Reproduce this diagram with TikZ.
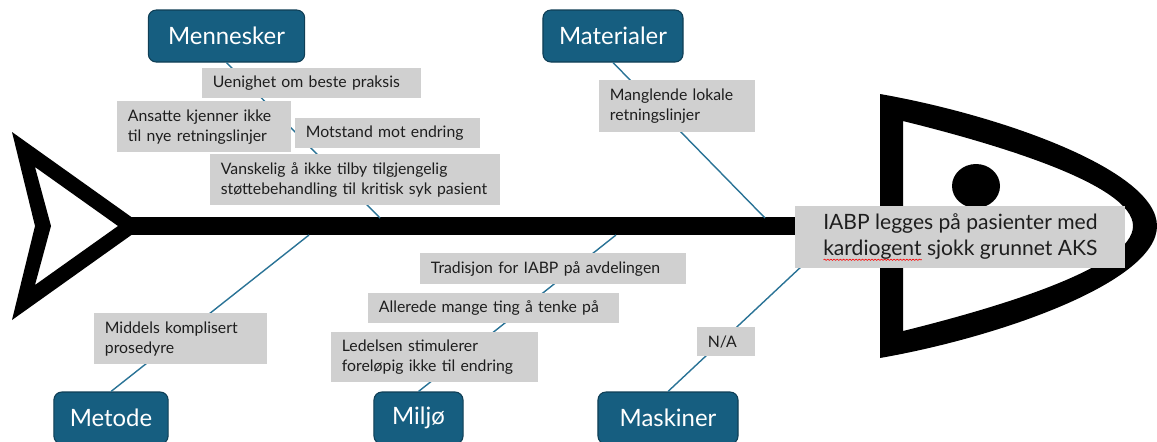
\documentclass[tikz,border=0pt]{standalone}
\usepackage{fontspec}
\setmainfont{Lato}
\usetikzlibrary{positioning,decorations.pathmorphing}

\definecolor{catblue}{HTML}{165E80}
\definecolor{catedge}{HTML}{0F3E55}
\definecolor{causegray}{HTML}{D0D0D0}
\definecolor{causetext}{HTML}{1E1E1E}
\definecolor{bonecol}{HTML}{2A7396}

\newlength{\wavelen}
\newcommand{\spellwave}[1]{\settowidth{\wavelen}{#1}\makebox[0pt][l]{\tikz[baseline=0pt]\draw[red,line width=0.35pt,decorate,decoration={snake,amplitude=0.35pt,segment length=1.8pt}] (0pt,-2.2pt) -- (\wavelen,-2.2pt);}#1}

\begin{document}
\begin{tikzpicture}[x=0.02cm,y=-0.02cm,
    catbox/.style={draw=catedge, line width=0.6pt, fill=catblue, rounded corners=4.5pt,
        text=white, font=\fontsize{13.6}{15}\selectfont, minimum height=29.6pt},
    cause/.style={fill=causegray, anchor=north west, align=left, inner xsep=6pt,
        inner ysep=0pt, text=causetext, font=\fontsize{9}{11.4}\selectfont},
    bone/.style={bonecol, line width=0.8pt}]

    % Frame
    \useasboundingbox (0,0) rectangle (1157,441);

    % Tail
    \fill[even odd rule] (12,132) -- (144,226) -- (12,320) -- (35,226) -- cycle
                         (35,167) -- (118,226) -- (35,285) -- (51,226) -- cycle;

    % Spine
    \fill (130,217) rectangle (890,235);

    % Head
    \fill[even odd rule] (880,94) .. controls (1000,115) and (1157,170) .. (1157,226)
                         .. controls (1157,282) and (1000,337) .. (880,358) -- cycle
                         (903,121) .. controls (1000,145) and (1133,185) .. (1133,226)
                         .. controls (1133,267) and (1000,307) .. (903,331) -- cycle;

    % Eye
    \fill (976,186) ellipse [x radius=24, y radius=22];

    % Categories
    \node[catbox, minimum width=89pt] (men) at (226.5,36) {Mennesker};
    \node[catbox, minimum width=79.7pt] (mat) at (613,36) {Materialer};
    \node[catbox, minimum width=65pt] (met) at (111,418) {Metode};
    \node[catbox, minimum width=50.7pt] (mil) at (418.5,418) {Miljø};
    \node[catbox, minimum width=79.7pt] (mas) at (668,418) {Maskiner};

    % Bones
    \foreach \n/\x/\y in {men/380/218, mat/765/218, met/309/235, mil/616/235, mas/835/235}
        \coordinate (b-\n) at (\x,\y);
    \foreach \n/\a in {men/south, mat/south, met/north, mil/north, mas/north}
        \draw[bone] (\n.\a) -- (b-\n);

    % Causes
    \node[cause, text width=112.7pt, minimum height=17.1pt] (uenighet) at (202,68) {Uenighet om beste praksis};
    \node[cause, text width=87.1pt, minimum height=29pt] (ansatte) at (117,101) {Ansatte kjenner ikke\\til nye retningslinjer};
    \node[cause, text width=93.3pt, minimum height=17.1pt] (motstand) at (295,118) {Motstand mot endring};
    \node[cause, text width=153.1pt, minimum height=29pt] (vanskelig) at (210,154) {Vanskelig å ikke tilby tilgjengelig\\støttebehandling til kritisk syk pasient};
    \node[cause, text width=76.8pt, minimum height=29.6pt] (manglende) at (599,80) {Manglende lokale\\retningslinjer};
    \node[cause, text width=139.4pt, minimum height=17.6pt] (tradisjon) at (420,253) {Tradisjon for IABP på avdelingen};
    \node[cause, text width=130.9pt, minimum height=17.1pt] (allerede) at (368,293) {Allerede mange ting å tenke på};
    \node[cause, text width=105.8pt, minimum height=28.5pt] (ledelsen) at (331,332) {Ledelsen stimulerer\\foreløpig ikke til endring};
    \node[cause, text width=86.5pt, minimum height=29pt] (middels) at (94,313) {Middels komplisert\\prosedyre};
    \node[cause, text width=21pt, minimum height=16.5pt] (na) at (697,327) {N/A};

    % Effect
    \node[fill=causegray, anchor=north west, minimum width=187.9pt, minimum height=35.3pt,
          align=center, text=causetext, font=\fontsize{12}{14.8}\selectfont] (effect) at (795,206)
          {IABP legges på pasienter med\\\spellwave{kardiogent} sjokk grunnet AKS};

\end{tikzpicture}
\end{document}
